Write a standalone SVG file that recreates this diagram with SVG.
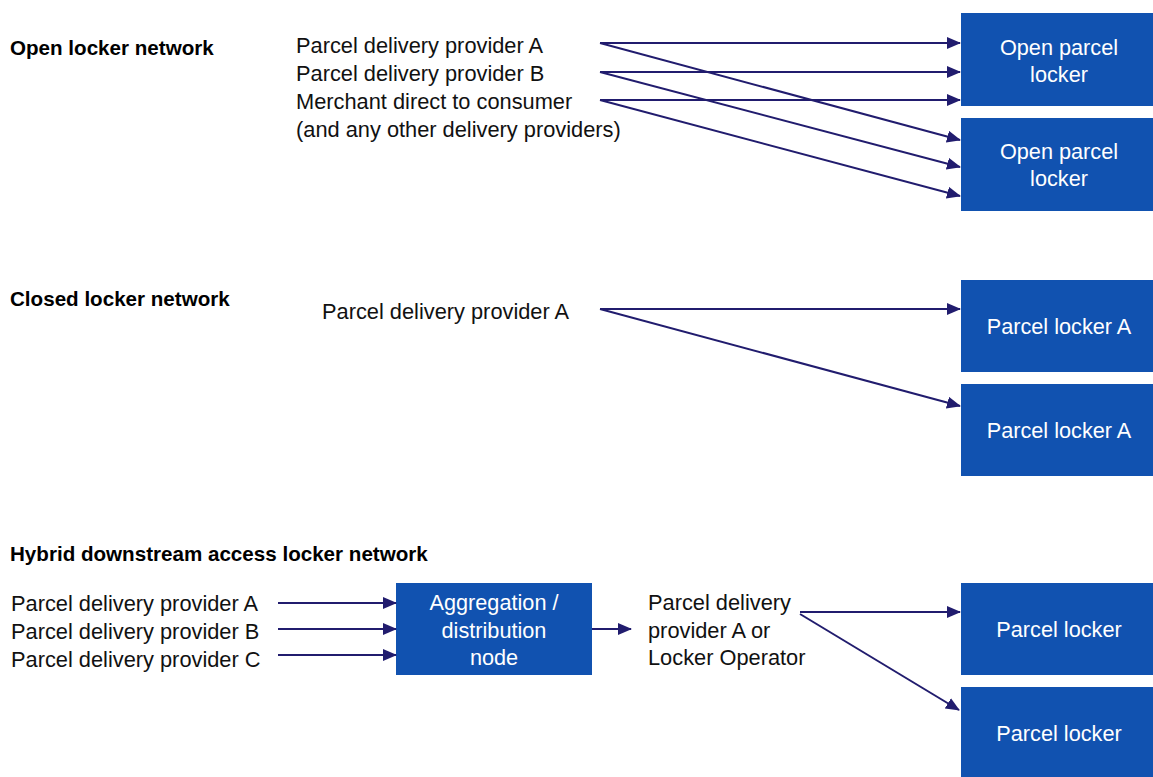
<svg xmlns="http://www.w3.org/2000/svg" width="1153" height="777" viewBox="0 0 1153 777">
  <style>
    .lbl { font-family: "Liberation Sans", Arial, sans-serif; font-size: 21.8px; fill: #111111; }
    .ttl { font-family: "Liberation Sans", Arial, sans-serif; font-size: 20.6px; font-weight: bold; fill: #000000; }
    .box { fill: #1152b0; }
    .btx { font-family: "Liberation Sans", Arial, sans-serif; font-size: 21.7px; fill: #ffffff; text-anchor: middle; }
    .con { stroke: #211c6e; stroke-width: 2; fill: none; marker-end: url(#arrow); }
  </style>
  <defs>
    <marker id="arrow" markerUnits="userSpaceOnUse" markerWidth="14" markerHeight="12" refX="13" refY="6" orient="auto">
      <path d="M0,0 L14,6 L0,12 Z" fill="#211c6e"/>
    </marker>
  </defs>
  <rect width="1153" height="777" fill="#ffffff"/>

  <!-- Section titles -->
  <g id="titles">
    <text class="ttl" x="10" y="55">Open locker network</text>
    <text class="ttl" x="10" y="306">Closed locker network</text>
    <text class="ttl" x="10" y="561">Hybrid downstream access locker network</text>
  </g>

  <!-- Open network: senders -->
  <g id="open-senders">
    <text class="lbl" x="296" y="53">Parcel delivery provider A</text>
    <text class="lbl" x="296" y="81">Parcel delivery provider B</text>
    <text class="lbl" x="296" y="109">Merchant direct to consumer</text>
    <text class="lbl" x="296" y="137">(and any other delivery providers)</text>
  </g>
  <g id="open-locker-1">
    <rect class="box" x="961" y="13" width="192" height="93"/>
    <text class="btx" x="1059" y="55">Open parcel</text>
    <text class="btx" x="1059" y="82">locker</text>
  </g>
  <g id="open-locker-2">
    <rect class="box" x="961" y="118" width="192" height="93"/>
    <text class="btx" x="1059" y="159">Open parcel</text>
    <text class="btx" x="1059" y="186">locker</text>
  </g>

  <!-- Closed network -->
  <g id="closed-sender">
    <text class="lbl" x="322" y="319">Parcel delivery provider A</text>
  </g>
  <g id="closed-locker-1">
    <rect class="box" x="961" y="280" width="192" height="92"/>
    <text class="btx" x="1059" y="334">Parcel locker A</text>
  </g>
  <g id="closed-locker-2">
    <rect class="box" x="961" y="384" width="192" height="92"/>
    <text class="btx" x="1059" y="438">Parcel locker A</text>
  </g>

  <!-- Hybrid network -->
  <g id="hybrid-senders">
    <text class="lbl" x="11" y="611">Parcel delivery provider A</text>
    <text class="lbl" x="11" y="639">Parcel delivery provider B</text>
    <text class="lbl" x="11" y="667">Parcel delivery provider C</text>
  </g>
  <g id="aggregation-node">
    <rect class="box" x="396" y="583" width="196" height="92"/>
    <text class="btx" x="494" y="610">Aggregation /</text>
    <text class="btx" x="494" y="638">distribution</text>
    <text class="btx" x="494" y="665">node</text>
  </g>
  <g id="last-mile-operator">
    <text class="lbl" x="648" y="610">Parcel delivery</text>
    <text class="lbl" x="648" y="638">provider A or</text>
    <text class="lbl" x="648" y="665">Locker Operator</text>
  </g>
  <g id="hybrid-locker-1">
    <rect class="box" x="961" y="583" width="192" height="92"/>
    <text class="btx" x="1059" y="637">Parcel locker</text>
  </g>
  <g id="hybrid-locker-2">
    <rect class="box" x="961" y="687" width="192" height="90"/>
    <text class="btx" x="1059" y="741">Parcel locker</text>
  </g>

  <!-- Connectors -->
  <g id="connectors">
    <line class="con" x1="600" y1="43" x2="960" y2="43"/>
    <line class="con" x1="600" y1="72" x2="960" y2="72"/>
    <line class="con" x1="600" y1="100" x2="960" y2="100"/>
    <line class="con" x1="600" y1="43" x2="960" y2="140"/>
    <line class="con" x1="600" y1="72" x2="960" y2="167"/>
    <line class="con" x1="600" y1="100" x2="960" y2="196"/>

    <line class="con" x1="600" y1="309" x2="960" y2="309"/>
    <line class="con" x1="600" y1="309" x2="960" y2="406"/>

    <line class="con" x1="278" y1="603" x2="396" y2="603"/>
    <line class="con" x1="278" y1="629" x2="396" y2="629"/>
    <line class="con" x1="278" y1="655" x2="396" y2="655"/>
    <line class="con" x1="592" y1="629" x2="631" y2="629"/>

    <line class="con" x1="800" y1="612" x2="960" y2="612"/>
    <line class="con" x1="800" y1="614" x2="959" y2="710"/>
  </g>
</svg>
